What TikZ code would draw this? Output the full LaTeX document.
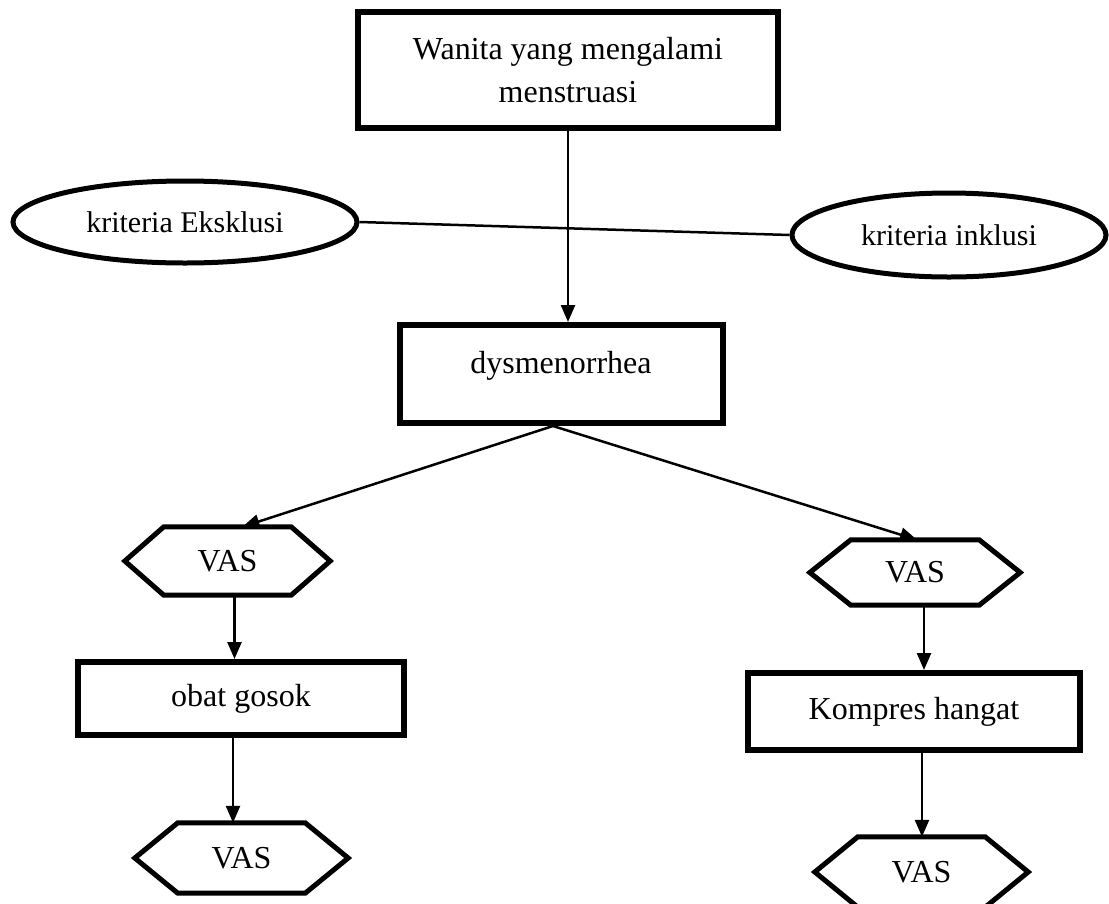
\documentclass[tikz,border=0pt]{standalone}
\usepackage{fontspec}
\setmainfont{Liberation Serif}
\usetikzlibrary{arrows.meta,shapes.geometric}
\begin{document}
\begin{tikzpicture}[x=1pt,y=-1pt,
 boxnode/.style={draw, line width=6pt, rectangle, inner sep=0pt, align=center, font=\fontsize{32}{43}\selectfont},
 ovalnode/.style={draw, line width=5pt, ellipse, inner sep=0pt, font=\fontsize{30}{36}\selectfont},
 hexnode/.style={inner sep=0pt, font=\fontsize{32}{38}\selectfont},
 hexline/.style={line width=5pt, line join=miter},
 conn/.style={line width=2.5pt},
 arr/.style={conn, -{Triangle[length=17pt,width=14pt]}}]
\useasboundingbox (0,0) rectangle (1109,903);
% nodes
\node[boxnode, minimum width=420pt, minimum height=116pt] (top) at (568,70) {Wanita yang mengalami\\menstruasi};
\node[ovalnode, minimum width=344pt, minimum height=82pt] (excl) at (185,222) {kriteria Eksklusi};
\node[ovalnode, minimum width=314pt, minimum height=84pt] (incl) at (949,235) {kriteria inklusi};
\node[boxnode, minimum width=323pt, minimum height=98pt, text height=22pt, text depth=24pt] (dys) at (561,374) {dysmenorrhea};
\node[hexnode, minimum width=205pt, minimum height=68pt] (vas1) at (227.5,561) {VAS};
\node[hexnode, minimum width=210pt, minimum height=65pt] (vas2) at (915,572.5) {VAS};
\node[boxnode, minimum width=326pt, minimum height=73pt] (obat) at (241,698.5) {obat gosok};
\node[boxnode, minimum width=332pt, minimum height=77pt] (komp) at (914,711.5) {Kompres hangat};
\node[hexnode, minimum width=213pt, minimum height=70pt] (vas3) at (241.5,858) {VAS};
\node[hexnode, minimum width=213pt, minimum height=70pt] (vas4) at (921.5,872) {VAS};
% hexagon outlines
\foreach \v/\i in {vas1/39, vas2/41, vas3/43, vas4/43}{
  \draw[hexline] (\v.west) -- ([xshift=\i pt]\v.north west) -- ([xshift=-\i pt]\v.north east)
    -- (\v.east) -- ([xshift=-\i pt]\v.south east) -- ([xshift=\i pt]\v.south west) -- cycle;
}
% connectors
\draw[conn] (excl.east) -- (incl.west);
\draw[arr] (top.south) -- (top.south |- dys.north);
\draw[arr] ([xshift=-8pt]dys.south) -- ([xshift=15pt]vas1.north);
\draw[arr] ([xshift=-8pt]dys.south) -- ([xshift=2pt]vas2.north);
\draw[arr] ([xshift=7pt]vas1.south) -- ([xshift=7pt]vas1.south |- obat.north);
\draw[arr] ([xshift=-8pt]obat.south) -- ([xshift=-8pt]obat.south |- vas3.north);
\draw[arr] ([xshift=9pt]vas2.south) -- ([xshift=9pt]vas2.south |- komp.north);
\draw[arr] ([xshift=8pt]komp.south) -- ([xshift=8pt]komp.south |- vas4.north);
\end{tikzpicture}
\end{document}
